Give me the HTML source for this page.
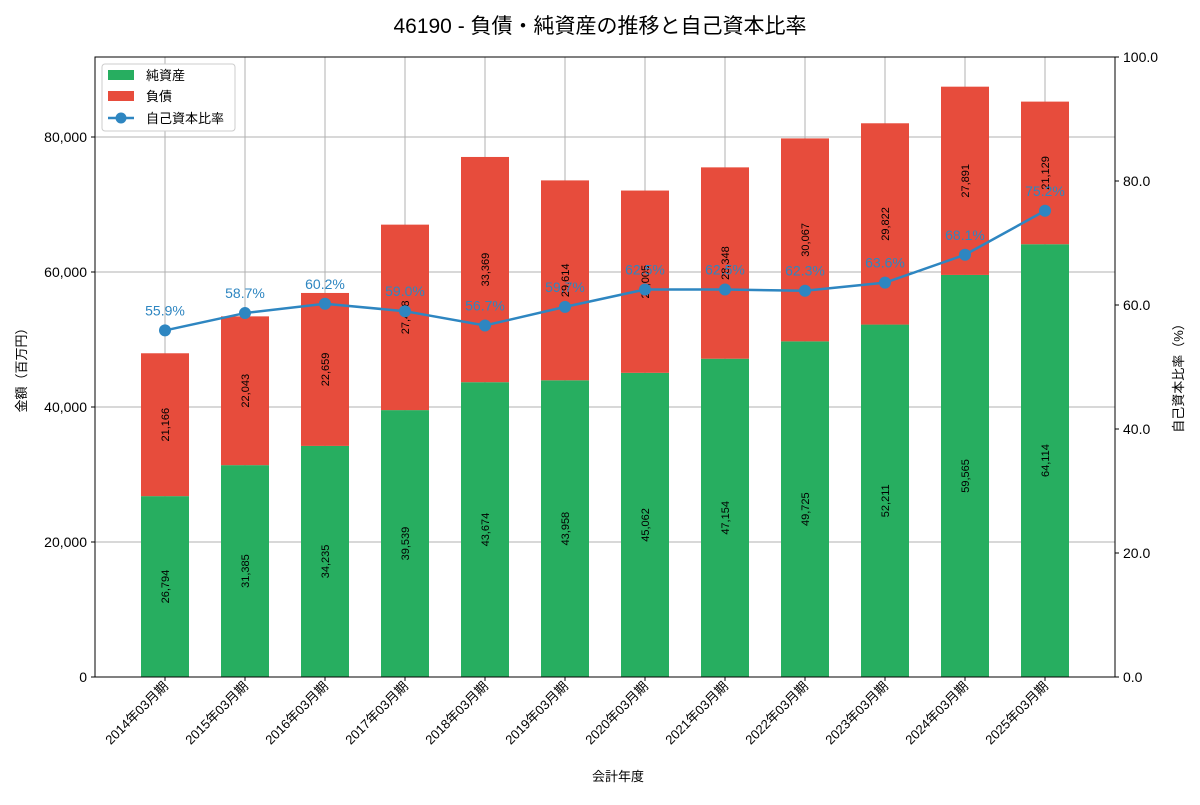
<!DOCTYPE html>
<html><head><meta charset="utf-8"><style>
body{margin:0;background:#fff;font-family:"Liberation Sans","Noto Sans CJK JP",sans-serif}
</style></head><body>
<svg id="c" width="1200" height="800" xmlns="http://www.w3.org/2000/svg" font-family="Liberation Sans, Noto Sans CJK JP, sans-serif">
<text x="600" y="33" text-anchor="middle" font-size="21">46190 - 負債・純資産の推移と自己資本比率</text>
<g id="grid"></g><g id="bars"></g><g id="line"></g><g id="axes"></g>
</svg>
<script>
const categories=["2014年03月期","2015年03月期","2016年03月期","2017年03月期","2018年03月期","2019年03月期","2020年03月期","2021年03月期","2022年03月期","2023年03月期","2024年03月期","2025年03月期"];
const equity=[26794,31385,34235,39539,43674,43958,45062,47154,49725,52211,59565,64114];
const liabilities=[21166,22043,22659,27478,33369,29614,27005,28348,30067,29822,27891,21129];
const ratio=[55.9,58.7,60.2,59.0,56.7,59.7,62.5,62.5,62.3,63.6,68.1,75.2];
const leftTicks=[0,20000,40000,60000,80000];
const rightTicks=[0,20,40,60,80,100];
const NS="http://www.w3.org/2000/svg";
const L=95,R=1115,T=57,B=677,YMAX=91852;
const y=v=>B-(B-T)*v/YMAX, y2=v=>B-(B-T)*v/100, x=i=>165+80*i;
function mk(p,t,a){const e=document.createElementNS(NS,t);for(const k in a)e.setAttribute(k,a[k]);document.getElementById(p)?document.getElementById(p).appendChild(e):p.appendChild(e);return e;}
const fmt=v=>v.toLocaleString('en-US');
leftTicks.forEach(v=>{const g=mk('grid','line',{x1:L,x2:R,y1:y(v),y2:y(v),stroke:'#b0b0b0','stroke-width':1});


const t=mk('axes','text',{x:L-8,y:y(v)+5,'text-anchor':'end','font-size':14});t.textContent=fmt(v);


mk('axes','line',{x1:L-4,x2:L,y1:y(v),y2:y(v),stroke:'#000'});});
rightTicks.forEach(v=>{const t=mk('axes','text',{x:R+8,y:y2(v)+5,'font-size':14});t.textContent=v.toFixed(1);


mk('axes','line',{x1:R,x2:R+4,y1:y2(v),y2:y2(v),stroke:'#000'});});
categories.forEach((c,i)=>{
const g=mk('grid','line',{x1:x(i),x2:x(i),y1:T,y2:B,stroke:'#b0b0b0'});


const e=equity[i],l=liabilities[i];
const b1=mk('bars','rect',{x:x(i)-24,width:48,y:y(e),height:B-y(e),fill:'#27ae60'});


const b2=mk('bars','rect',{x:x(i)-24,width:48,y:y(e+l),height:y(e)-y(e+l),fill:'#e74c3c'});


[[e,(y(e)+B)/2],[l,(y(e)+y(e+l))/2]].forEach(([v,cy])=>{const t=mk('bars','text',{x:0,y:0,transform:`translate(${x(i)+4},${cy}) rotate(-90)`,'text-anchor':'middle','font-size':11});t.textContent=fmt(v);

});
mk('axes','line',{x1:x(i),x2:x(i),y1:B,y2:B+4,stroke:'#000'});
const t=mk('axes','text',{transform:`translate(${x(i)+4},${B+10}) rotate(-45)`,'text-anchor':'end','font-size':13});t.textContent=c;


});
const pl=mk('line','polyline',{points:ratio.map((r,i)=>x(i)+','+y2(r)).join(' '),fill:'none',stroke:'#2e86c1','stroke-width':2.5});


ratio.forEach((r,i)=>{const c=mk('line','circle',{cx:x(i),cy:y2(r),r:6,fill:'#2e86c1'});


const t=mk('line','text',{x:x(i),y:y2(r)-15,'text-anchor':'middle','font-size':14,fill:'#2e86c1'});t.textContent=r.toFixed(1)+'%';

});
const fr=mk('axes','rect',{x:L,y:T,width:R-L,height:B-T,fill:'none',stroke:'#000'});


let t=mk('axes','text',{x:0,y:0,transform:'translate(26,367) rotate(-90)','text-anchor':'middle','font-size':13});t.textContent='金額（百万円）';


t=mk('axes','text',{x:0,y:0,transform:'translate(1183,375) rotate(-90)','text-anchor':'middle','font-size':13});t.textContent='自己資本比率（%）';


t=mk('axes','text',{x:618,y:781,'text-anchor':'middle','font-size':13});t.textContent='会計年度';


const lg=mk('axes','g',{});


mk(lg,'rect',{x:102,y:64,width:133,height:67,fill:'#fff',stroke:'#ccc',rx:3});
mk(lg,'rect',{x:108,y:70,width:26,height:10,fill:'#27ae60'});
mk(lg,'rect',{x:108,y:91,width:26,height:10,fill:'#e74c3c'});
mk(lg,'line',{x1:108,x2:134,y1:118,y2:118,stroke:'#2e86c1','stroke-width':2.5});
mk(lg,'circle',{cx:121,cy:118,r:5.5,fill:'#2e86c1'});
[['純資産',80,'legend-equity'],['負債',101,'legend-liabilities'],['自己資本比率',123,'legend-ratio']].forEach(([s,yy,n])=>{const e=mk(lg,'text',{x:146,y:yy,'font-size':13});e.textContent=s;

});
</script>
</body></html>
